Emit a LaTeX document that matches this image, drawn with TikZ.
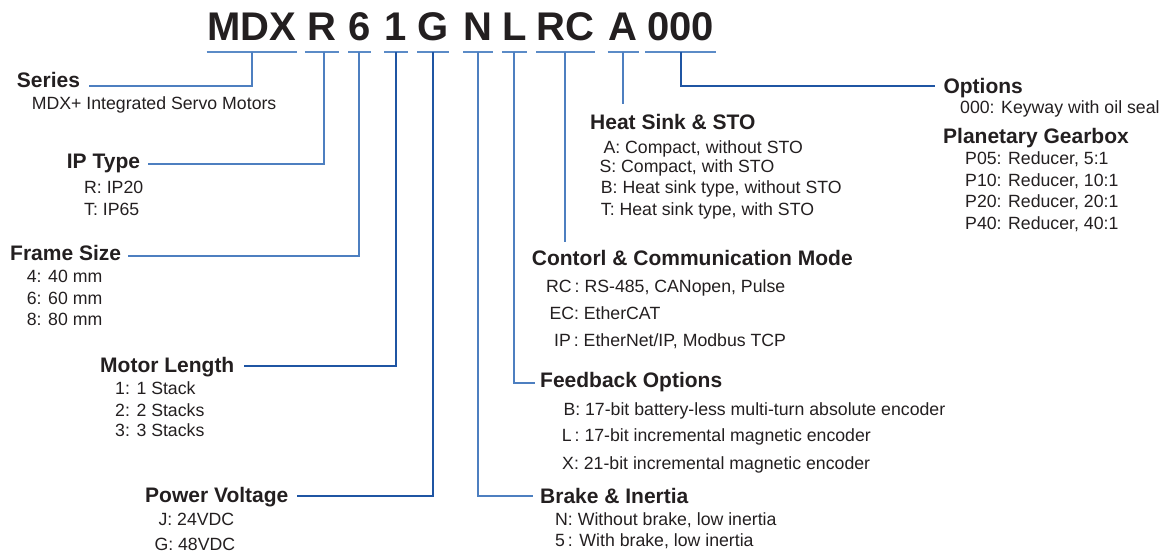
\documentclass[tikz,border=0pt]{standalone}
\usepackage{fontspec}
\setmainfont{Liberation Sans}
\definecolor{txt}{HTML}{231F20}
\definecolor{ul}{HTML}{5B8BC7}
\definecolor{lnL}{HTML}{4D7FC0}
\definecolor{lnD}{HTML}{1F55A3}
\begin{document}
\begin{tikzpicture}[x=1pt,y=-1pt,
  title/.style={font=\bfseries\fontsize{40}{40}\selectfont, text=txt, anchor=base, inner xsep=0pt, inner ysep=11pt, text depth=0pt},
  head/.style={font=\bfseries\fontsize{21}{21}\selectfont, text=txt, anchor=base west, inner sep=0pt},
  item/.style={font=\fontsize{17.7}{17.7}\selectfont, text=txt, anchor=base west, inner sep=0pt},
  uline/.style={draw=ul, line width=2.2pt},
  conn/.style={draw=lnL, line width=1.7pt},
  connD/.style={draw=lnD, line width=1.7pt}]
\useasboundingbox (0,0) rectangle (1171,555);

% title code
\node[title, minimum width=90pt]   (tMDX) at (251.7,40.7) {MDX};
\node[title, minimum width=34pt]   (tR)   at (322,40.7) {R};
\node[title, minimum width=22.7pt] (t6)   at (359.7,40.7) {6};
\node[title, minimum width=23.4pt] (t1)   at (396,40.7) {1};
\node[title, minimum width=31.3pt] (tG)   at (433.3,40.7) {G};
\node[title, minimum width=28.4pt] (tN)   at (478,40.7) {N};
\node[title, minimum width=23.3pt] (tL)   at (514.3,40.7) {L};
\node[title, minimum width=58.3pt] (tRC)  at (565.8,40.7) {RC};
\node[title, minimum width=30.6pt] (tA)   at (623,40.7) {A};
\node[title, minimum width=70.7pt] (t000) at (680.6,40.7) {000};
\foreach \n in {tMDX,tR,t6,t1,tG,tN,tL,tRC,tA,t000}
  \draw[uline] (\n.south west) -- (\n.south east);

% left headings
\node[head] (hSeries) at (16.7,87.7) {Series};
\node[item] (iSeries) at (31.7,109.3) {MDX+ Integrated Servo Motors};
\node[head] (hIP) at (66.7,168.3) {IP Type};
\node[item] (iIP1) at (84,193.3) {R: IP20};
\node[item] (iIP2) at (84,215.7) {T: IP65};
\node[head] (hFrame) at (10,260) {Frame Size};
\node[item] (iFr1) at (26.7,282.7) {4: 40 mm};
\node[item] (iFr2) at (26.7,304) {6: 60 mm};
\node[item] (iFr3) at (26.7,325) {8: 80 mm};
\node[head] (hMotor) at (100,372.7) {Motor Length};
\node[item] (iMo1) at (115,394.3) {1: 1 Stack};
\node[item] (iMo2) at (115,416) {2: 2 Stacks};
\node[item] (iMo3) at (115,436.7) {3: 3 Stacks};
\node[head] (hPower) at (145,502.7) {Power Voltage};
\node[item] (iPw1) at (158.3,525.7) {J: 24VDC};
\node[item] (iPw2) at (154.3,550) {G: 48VDC};

% middle headings
\node[head] (hHeat) at (590,129.3) {Heat Sink \& STO};
\node[item] (iHs1) at (603.3,153.3) {A: Compact, without STO};
\node[item] (iHs2) at (599.3,172.7) {S: Compact, with STO};
\node[item] (iHs3) at (600.7,193.3) {B: Heat sink type, without STO};
\node[item] (iHs4) at (600.7,215) {T: Heat sink type, with STO};
\node[head] (hCtrl) at (531.7,265) {Contorl \& Communication Mode};
\node[item] (iCt1) at (546,292.3) {RC\,: RS-485, CANopen, Pulse};
\node[item] (iCt2) at (549.3,319.3) {EC: EtherCAT};
\node[item] (iCt3) at (554,346.7) {IP\,: EtherNet/IP, Modbus TCP};
\node[head] (hFeed) at (540,387.7) {Feedback Options};
\node[item] (iFb1) at (563.3,415) {B: 17-bit battery-less multi-turn absolute encoder};
\node[item] (iFb2) at (561.7,441.7) {L\,: 17-bit incremental magnetic encoder};
\node[item] (iFb3) at (562,469) {X: 21-bit incremental magnetic encoder};
\node[head] (hBrake) at (540,503.3) {Brake \& Inertia};
\node[item] (iBr1) at (555,525.7) {N: Without brake, low inertia};
\node[item] (iBr2) at (555,546.7) {5\,: With brake, low inertia};

% right headings
\node[head] (hOpt) at (943.3,93.3) {Options};
\node[item] (iOp1) at (960,113.3) {000: Keyway with oil seal};
\node[head] (hGear) at (943,143.3) {Planetary Gearbox};
\node[item] (iGb1) at (965,164) {P05: Reducer, 5:1};
\node[item] (iGb2) at (965,186) {P10: Reducer, 10:1};
\node[item] (iGb3) at (965,207.3) {P20: Reducer, 20:1};
\node[item] (iGb4) at (965,229.3) {P40: Reducer, 40:1};

% free ends
\coordinate (cA) at (622.7,104);
\coordinate (cRC) at (565,241.7);

% connectors
\draw[conn] ([xshift=0.6pt]tMDX.south) |- ([xshift=9pt,yshift=2pt]hSeries.base east);
\draw[conn] ([xshift=2pt]tR.south) |- ([xshift=7.4pt,yshift=4.3pt]hIP.base east);
\draw[conn] ([xshift=-0.4pt]t6.south) |- ([xshift=7pt,yshift=4pt]hFrame.base east);
\draw[connD] (t1.south) |- ([xshift=9pt,yshift=6.7pt]hMotor.base east);
\draw[connD] (tG.south) |- ([xshift=8.4pt,yshift=7pt]hPower.base east);
\draw[conn] ([xshift=0.3pt]tN.south) |- ([xshift=-6.7pt,yshift=7.6pt]hBrake.base west);
\draw[conn] (tL.south) |- ([xshift=-5pt,yshift=4.4pt]hFeed.base west);
\draw[conn] (tRC.south -| cRC) -- (cRC);
\draw[conn] (tA.south -| cA) -- (cA);
\draw[connD] ([xshift=0.4pt]t000.south) |- ([xshift=-8pt,yshift=7.6pt]hOpt.base west);
\end{tikzpicture}
\end{document}
